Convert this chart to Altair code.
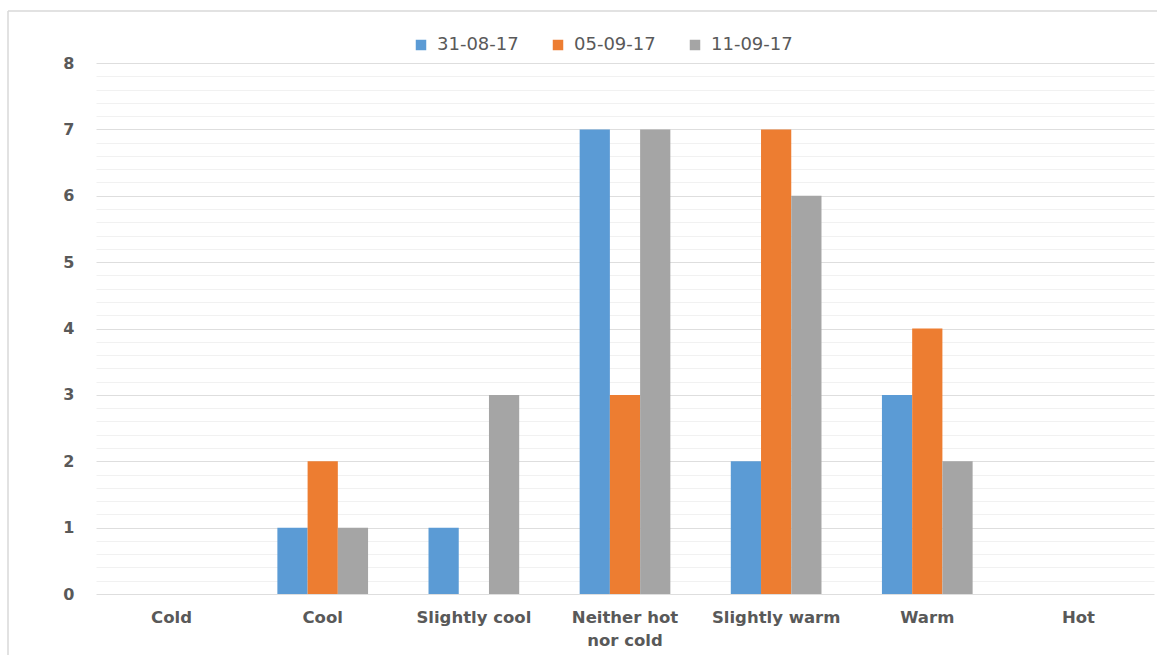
import altair as alt
import pandas as pd

# Thermal sensation votes per survey date
categories = ["Cold", "Cool", "Slightly cool", "Neither hot nor cold",
              "Slightly warm", "Warm", "Hot"]
dates = ["31-08-17", "05-09-17", "11-09-17"]
votes_31_08 = [0, 1, 1, 7, 2, 3, 0]
votes_05_09 = [0, 2, 0, 3, 7, 4, 0]
votes_11_09 = [0, 1, 3, 7, 6, 2, 0]
colors = ["#5B9BD5", "#ED7D31", "#A5A5A5"]
y_ticks = [i / 5 for i in range(41)]  # major lines at integers, minor every 0.2

rows = []
for date, series in zip(dates, [votes_31_08, votes_05_09, votes_11_09]):
    for cat, v in zip(categories, series):
        rows.append({"category": cat, "date": date, "votes": v})
df = pd.DataFrame(rows)

TEXT = "#595959"
is_int = "abs(datum.value - round(datum.value)) < 0.001"

bars = alt.Chart(df).mark_bar().encode(
    x=alt.X(
        "category:N",
        sort=categories,
        title=None,
        scale=alt.Scale(paddingInner=0.4, paddingOuter=0.2),
        axis=alt.Axis(
            domain=False, ticks=False, grid=False,
            labelAngle=0, labelFont="DejaVu Sans", labelFontWeight="bold",
            labelFontSize=16.5, labelColor=TEXT, labelPadding=15,
            labelBaseline="top", labelLineHeight=23,
            labelExpr="datum.value == 'Neither hot nor cold' ? ['Neither hot', 'nor cold'] : datum.value",
        ),
    ),
    xOffset=alt.XOffset("date:N", sort=dates,
                        scale=alt.Scale(paddingInner=0, paddingOuter=0)),
    y=alt.Y(
        "votes:Q",
        title=None,
        scale=alt.Scale(domain=[0, 8], nice=False),
        axis=alt.Axis(
            values=y_ticks, domain=False, ticks=False,
            labelExpr=f"{is_int} ? format(datum.value, 'd') : ''",
            labelOverlap=False, labelFlush=False,
            labelFont="DejaVu Sans", labelFontWeight="bold",
            labelFontSize=16, labelColor=TEXT, labelPadding=22,
            gridColor={"condition": {"test": is_int, "value": "#dedede"},
                       "value": "#f1f1f1"},
            gridWidth=1,
        ),
    ),
    color=alt.Color(
        "date:N",
        sort=dates,
        scale=alt.Scale(domain=dates, range=colors),
        legend=alt.Legend(
            title=None, orient="none", direction="horizontal",
            legendX=316, legendY=-27, padding=0,
            symbolType="square", symbolSize=110, symbolStrokeWidth=0,
            labelFont="DejaVu Sans", labelFontSize=18, labelColor=TEXT,
            labelOffset=7, columnPadding=30,
        ),
    ),
)

# Thin frame along the top and left edges of the chart
frame = alt.Chart(pd.DataFrame({"edge": ["top", "left"]}))
frame_top = frame.transform_filter("datum.edge == 'top'").mark_rule(
    color="#d9d9d9", strokeWidth=1.5
).encode(x=alt.value(-88), x2=alt.value(1065), y=alt.value(-52))
frame_left = frame.transform_filter("datum.edge == 'left'").mark_rule(
    color="#d9d9d9", strokeWidth=1.5
).encode(x=alt.value(-88), y=alt.value(-52), y2=alt.value(600))

chart = alt.layer(bars, frame_top, frame_left).properties(
    width=1058,
    height=531,
    autosize=alt.AutoSizeParams(type="none"),
    padding={"left": 96, "top": 63, "right": 3, "bottom": 61},
    background="white",
).configure_view(stroke=None)

chart.save("out.html", embed_options={"renderer": "svg", "actions": False})
